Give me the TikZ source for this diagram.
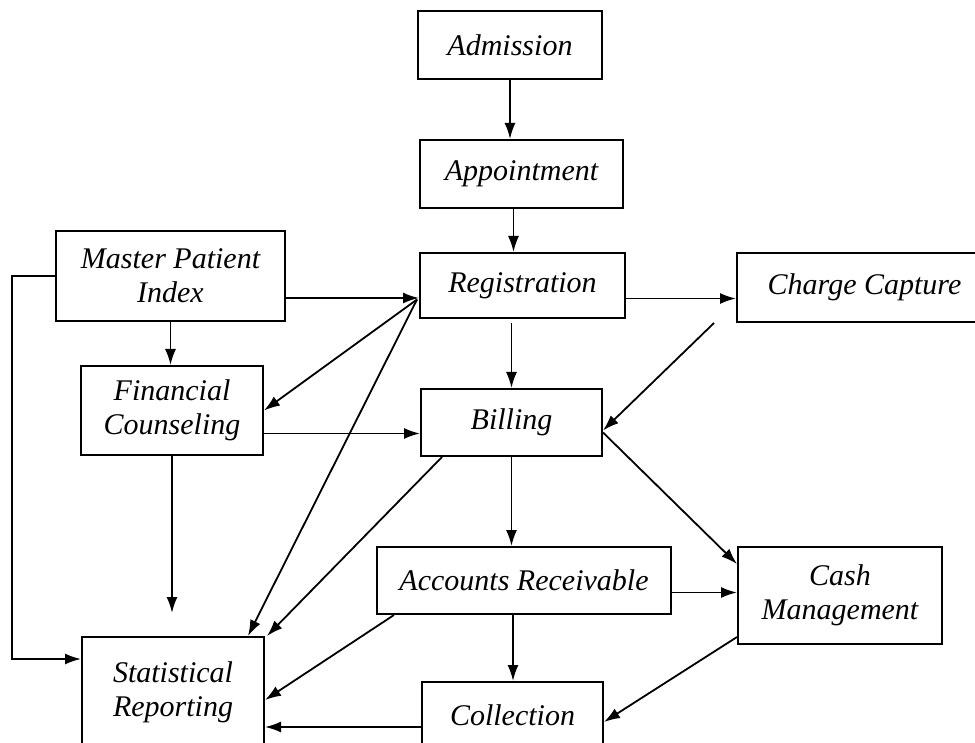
\documentclass[tikz,border=0pt]{standalone}
\usepackage{fontspec}
\setmainfont{Liberation Serif}
\usetikzlibrary{arrows.meta,positioning}

\begin{document}
\begin{tikzpicture}[x=1pt,y=-1pt,
        box/.style={draw,line width=2pt,inner sep=2pt,align=center,font=\fontsize{30}{34}\selectfont\itshape},
        flow/.style={-{Latex[length=16pt,width=11pt]},line width=1.8pt}]
        \useasboundingbox (0,0) rectangle (975,743);
        \clip (0,0) rectangle (975,743);

        \node[box,minimum width=184pt,minimum height=68pt] (adm) at (510,45) {Admission};
        \node[box,minimum width=203pt,minimum height=68pt] (appt) at (521.5,174) {Appointment};
        \node[box,minimum width=205pt,minimum height=65pt] (reg) at (522.5,285.5) {Registration};
        \node[box,minimum width=255pt,minimum height=69pt] (cc) at (864.5,287.5) {Charge Capture};
        \node[box,minimum width=229pt,minimum height=90pt] (mpi) at (170.5,276) {Master Patient\\Index};
        \node[box,minimum width=182pt,minimum height=89pt] (fc) at (172,410.5) {Financial\\Counseling};
        \node[box,minimum width=181pt,minimum height=67pt] (bill) at (511.5,422.5) {Billing};
        \node[box,minimum width=294pt,minimum height=67pt] (ar) at (524,580.5) {Accounts Receivable};
        \node[box,minimum width=204pt,minimum height=97pt] (cash) at (840,595.5) {Cash\\Management};
        \node[box,minimum width=182pt,minimum height=110pt] (sr) at (173,692) {Statistical\\Reporting};
        \node[box,minimum width=181pt,minimum height=66pt] (coll) at (512.5,715) {Collection};

        % straight down
        \draw[flow] (adm.south) -- (adm.south |- appt.north);
        \draw[flow] ([xshift=-8pt]appt.south) -- ([xshift=-8pt]appt.south |- reg.north);
        \draw[flow] ([xshift=-11pt,yshift=-4pt]reg.south) -- ([xshift=-11pt]reg.south |- bill.north);
        \draw[flow] (mpi.south) -- (mpi.south |- fc.north);
        \draw[flow] (bill.south) -- (bill.south |- ar.north);
        \draw[flow] ([xshift=-11pt]ar.south) -- ([xshift=-11pt]ar.south |- coll.north);
        \draw[flow,shorten >=23pt] (fc.south) -- (fc.south |- sr.north);

        % straight across
        \draw[flow] ([yshift=-22pt]mpi.east) -- ([yshift=-22pt]mpi.east -| reg.west);
        \draw[flow] ([yshift=-13pt]reg.east) -- ([yshift=-13pt]reg.east -| cc.west);
        \draw[flow] ([yshift=-23pt]fc.east) -- ([yshift=-23pt]fc.east -| bill.west);
        \draw[flow] ([yshift=-12pt]ar.east) -- ([yshift=-12pt]ar.east -| cash.west);
        \draw[flow] ([yshift=-12pt]coll.west) -- ([yshift=-12pt]coll.west -| sr.east);
        \draw[flow] (mpi.west) -- ++(-43pt,0) |- ([yshift=33pt]sr.west);

        % slanted
        \coordinate (hub) at ([xshift=-2pt,yshift=-14pt]reg.west);
        \draw[flow] (hub) -- (fc.east);
        \draw[flow] (hub) -- ([xshift=-17pt]sr.north east);
        \draw[flow] ([xshift=-22pt]cc.south west) -- ([yshift=-8pt]bill.east);
        \draw[flow] ([xshift=22pt]bill.south west) -- ([xshift=2pt]sr.north east);
        \draw[flow] ([yshift=-10pt]bill.east) -- ([yshift=-18pt]cash.north west);
        \draw[flow] ([xshift=18pt]ar.south west) -- ([yshift=-8pt]sr.east);
        \draw[flow] ([yshift=8pt]cash.south west) -- ([yshift=-7pt]coll.east);
\end{tikzpicture}
\end{document}
